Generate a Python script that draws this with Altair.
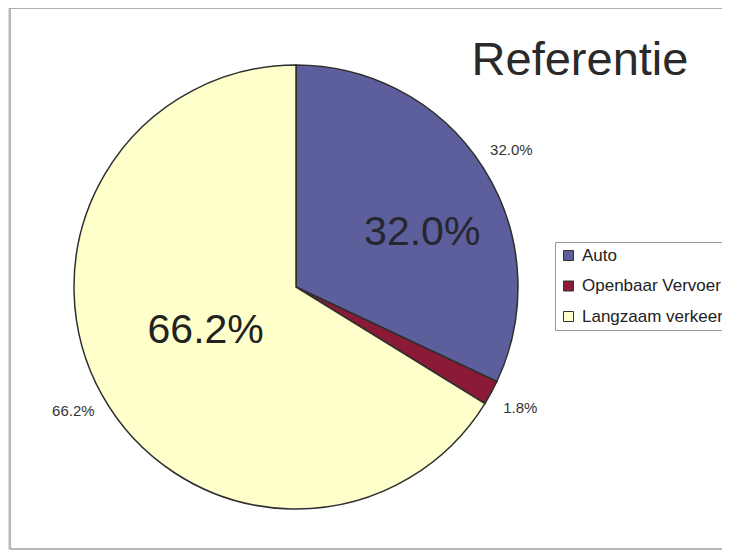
import altair as alt
import pandas as pd

categories = ["Auto", "Openbaar Vervoer", "Langzaam verkeer"]
values = [32.0, 1.8, 66.2]
colors = ["#5c5f9c", "#8a1a35", "#ffffcc"]
title_text = "Referentie"

df = pd.DataFrame({
    "cat": categories,
    "value": values,
    "idx": list(range(len(categories))),
})
df["label"] = [f"{v:.1f}%" for v in values]

CX, CY, R = 288, 279, 222
FONT = "Liberation Sans"

base = alt.Chart(df).encode(
    theta=alt.Theta("value:Q", stack=True),
    order=alt.Order("idx:Q"),
)

pie = base.mark_arc(outerRadius=R, stroke="#2f2f2f", strokeWidth=1.5).encode(
    x=alt.value(CX),
    y=alt.value(CY),
    color=alt.Color(
        "cat:N",
        scale=alt.Scale(domain=categories, range=colors),
        sort=categories,
        legend=alt.Legend(
            title=None,
            orient="none",
            legendX=547,
            legendY=234,
            symbolType="square",
            symbolSize=100,
            symbolStrokeColor="#333",
            symbolStrokeWidth=1,
            labelFont=FONT,
            labelFontSize=17,
            labelColor="#222",
            labelOffset=5,
            rowPadding=12.5,
            padding=5,
            strokeColor="#999",
            fillColor="white",
            labelLimit=300,
        ),
    ),
)

outer = base.mark_text(radius=255, font=FONT, fontSize=15, color="#333").encode(
    x=alt.value(CX), y=alt.value(CY), text="label:N"
)

big_auto = base.transform_calculate(
    t="datum.cat == 'Auto' ? datum.label : ''"
).mark_text(radius=140, dx=8, dy=21, font=FONT, fontSize=41, color="#262630").encode(
    x=alt.value(CX), y=alt.value(CY), text="t:N"
)

big_lv = base.transform_calculate(
    t="datum.cat == 'Langzaam verkeer' ? datum.label : ''"
).mark_text(radius=100, dx=-3, dy=-5, font=FONT, fontSize=41, color="#222").encode(
    x=alt.value(CX), y=alt.value(CY), text="t:N"
)

title = alt.Chart(pd.DataFrame({"t": [title_text]})).mark_text(
    font=FONT, fontSize=47, color="#2a2a2a", baseline="alphabetic", align="center"
).encode(x=alt.value(572), y=alt.value(67), text="t:N")

one = pd.DataFrame({"a": [0]})
frame_left = alt.Chart(one).mark_rule(stroke="#a0a0a0", strokeWidth=1.5).encode(
    x=alt.value(2), y=alt.value(0), y2=alt.value(541)
)
frame_top = alt.Chart(one).mark_rule(stroke="#a0a0a0", strokeWidth=1.5).encode(
    x=alt.value(2), x2=alt.value(714), y=alt.value(0)
)
frame_bottom = alt.Chart(one).mark_rule(stroke="#a0a0a0", strokeWidth=1.5).encode(
    x=alt.value(2), x2=alt.value(714), y=alt.value(541)
)

chart = alt.layer(
    frame_left, frame_top, frame_bottom, pie, outer, big_auto, big_lv, title
).properties(
    width=714, height=542, autosize=alt.AutoSizeParams(type="none"), padding=0
).configure_view(stroke="transparent", strokeWidth=0).configure(background="white")

chart.save("out.html", embed_options={"renderer": "svg", "actions": False})
